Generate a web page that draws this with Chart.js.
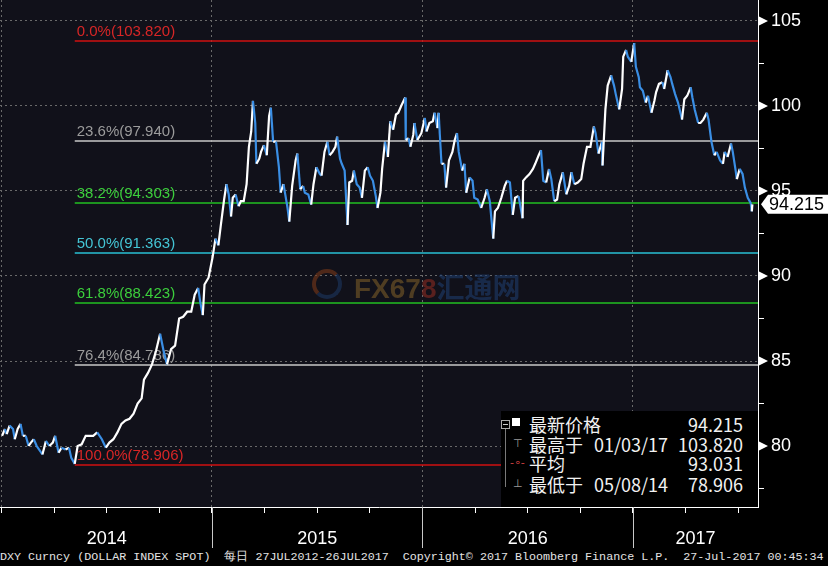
<!DOCTYPE html>
<html lang="zh">
<head>
<meta charset="UTF-8">
<title>DXY Curncy</title>
<script src="https://cdn.jsdelivr.net/npm/chart.js"></script>
<style>
    body { margin: 0; background: #000; width: 828px; height: 566px; overflow: hidden; position: relative; font-family: "Liberation Sans", Arial, sans-serif; }
    #chart { position: absolute; left: 0; top: 0; }
    .footer { position: absolute; left: 0; top: 549px; font-family: "Liberation Mono", "DejaVu Sans Mono", monospace; font-size: 11.7px; color: #e4e4e4; white-space: pre; line-height: 16px; }
    .legend { position: absolute; left: 501px; top: 411px; width: 257px; height: 96px; background: #000; color: #f2f2f2; font-family: "Noto Sans CJK SC", sans-serif; font-size: 18px; }
    .legend .row { position: absolute; left: 0; width: 257px; height: 20px; line-height: 20px; }
    .legend .lbl { position: absolute; left: 28px; }
    .legend .dt { position: absolute; left: 93px; }
    .legend .val { position: absolute; right: 15px; }
    .legend .ico { position: absolute; left: 12px; font-family: "DejaVu Sans", sans-serif; font-size: 11px; color: #9a9a9a; }
    .tree { position: absolute; left: 4px; top: 16px; width: 0; height: 60px; border-left: 1px solid #7a7a7a; }
    .box { position: absolute; left: 0; top: 9px; width: 7px; height: 7px; border: 1px solid #aaa; background: #000; }
    .box:after { content: ""; position: absolute; left: 1px; top: 3px; width: 5px; height: 1px; background: #ccc; }
    .sq { position: absolute; left: 11px; top: 7px; width: 8px; height: 8px; background: #fff; }
    .wm { position: absolute; left: 312px; top: 266px; opacity: 0.6; }
    .wm .ring { position: absolute; left: 0; top: 3px; width: 22px; height: 22px; border-radius: 50%; border: 4px solid; border-color: #7a3a1a #1d3760 #1d3760 #7a3a1a; }
    .wm .txt { position: absolute; left: 42px; top: 0; white-space: nowrap; font: bold 28px "Liberation Sans", sans-serif; color: #7a5c28; }
    .wm .cn { font-family: "Noto Sans CJK SC", sans-serif; color: #1f3d6c; }
</style>
</head>
<body>
<canvas id="chart" width="828" height="548"></canvas>

<div class="wm">
    <div class="ring"></div>
    <div class="txt">FX67<span style="color:#8a2c22">8</span><span class="cn">汇通网</span></div>
</div>

<div class="legend">
    <div class="tree"></div>
    <div class="box"></div>
    <div class="sq"></div>
    <div class="row" style="top:3px"><span class="lbl">最新价格</span><span class="val">94.215</span></div>
    <div class="row" style="top:23px"><span class="ico">⊤</span><span class="lbl">最高于</span><span class="dt">01/03/17</span><span class="val">103.820</span></div>
    <div class="row" style="top:42px"><span class="ico" style="color:#d04040;left:9px">-∘-</span><span class="lbl">平均</span><span class="val">93.031</span></div>
    <div class="row" style="top:63px"><span class="ico">⊥</span><span class="lbl">最低于</span><span class="dt">05/08/14</span><span class="val">78.906</span></div>
</div>

<div class="footer">DXY Curncy (DOLLAR INDEX SPOT)  每日 27JUL2012-26JUL2017  Copyright© 2017 Bloomberg Finance L.P.  27-Jul-2017 00:45:34</div>

<script>
// donnees (cours DXY)
const dates = [
    '2014-01-02','2014-01-07','2014-01-10','2014-01-15','2014-01-21','2014-01-24','2014-01-29','2014-02-03','2014-02-07','2014-02-12',
    '2014-02-17','2014-02-21','2014-02-26','2014-03-03','2014-03-07','2014-03-13','2014-03-19','2014-03-25','2014-03-31','2014-04-04',
    '2014-04-10','2014-04-15','2014-04-22','2014-04-28','2014-05-02','2014-05-08','2014-05-13','2014-05-20','2014-05-27','2014-06-03',
    '2014-06-09','2014-06-16','2014-06-24','2014-07-01','2014-07-07','2014-07-14','2014-07-21','2014-07-28','2014-08-04','2014-08-11',
    '2014-08-18','2014-08-25','2014-09-01','2014-09-05','2014-09-12','2014-09-19','2014-09-26','2014-10-03','2014-10-09','2014-10-15',
    '2014-10-22','2014-10-29','2014-11-05','2014-11-12','2014-11-19','2014-11-26','2014-12-02','2014-12-08','2014-12-12','2014-12-16',
    '2014-12-19','2014-12-26',
    '2015-01-02','2015-01-07','2015-01-12','2015-01-16','2015-01-22','2015-01-26','2015-01-30','2015-02-03','2015-02-06','2015-02-11',
    '2015-02-16','2015-02-20','2015-02-25','2015-03-02','2015-03-06','2015-03-10','2015-03-13','2015-03-17','2015-03-19','2015-03-24',
    '2015-03-27','2015-04-01','2015-04-06','2015-04-10','2015-04-13','2015-04-17','2015-04-22','2015-04-27','2015-04-30','2015-05-05',
    '2015-05-08','2015-05-12','2015-05-15','2015-05-20','2015-05-26','2015-05-29','2015-06-03','2015-06-08','2015-06-11','2015-06-17',
    '2015-06-22','2015-06-26','2015-07-01','2015-07-07','2015-07-10','2015-07-15','2015-07-20','2015-07-24','2015-07-29','2015-08-03',
    '2015-08-06','2015-08-11','2015-08-14','2015-08-19','2015-08-24','2015-08-27','2015-09-01','2015-09-04','2015-09-09','2015-09-14',
    '2015-09-18','2015-09-23','2015-09-28','2015-10-02','2015-10-07','2015-10-12','2015-10-15','2015-10-20','2015-10-23','2015-10-28',
    '2015-11-02','2015-11-06','2015-11-11','2015-11-16','2015-11-20','2015-11-25','2015-12-02','2015-12-03','2015-12-08','2015-12-11',
    '2015-12-16','2015-12-18','2015-12-23','2015-12-30',
    '2016-01-05','2016-01-08','2016-01-13','2016-01-19','2016-01-22','2016-01-27','2016-01-29','2016-02-03','2016-02-08','2016-02-11',
    '2016-02-16','2016-02-22','2016-02-26','2016-03-01','2016-03-04','2016-03-10','2016-03-14','2016-03-17','2016-03-23','2016-03-28',
    '2016-03-31','2016-04-06','2016-04-12','2016-04-18','2016-04-22','2016-04-27','2016-05-03','2016-05-06','2016-05-11','2016-05-17',
    '2016-05-23','2016-05-27','2016-06-01','2016-06-06','2016-06-10','2016-06-16','2016-06-23','2016-06-24','2016-06-29','2016-07-05',
    '2016-07-11','2016-07-15','2016-07-21','2016-07-25','2016-07-29','2016-08-03','2016-08-08','2016-08-12','2016-08-17','2016-08-22',
    '2016-08-26','2016-09-01','2016-09-07','2016-09-12','2016-09-16','2016-09-21','2016-09-27','2016-10-03','2016-10-07','2016-10-13',
    '2016-10-19','2016-10-25','2016-10-28','2016-11-02','2016-11-08','2016-11-09','2016-11-14','2016-11-18','2016-11-24','2016-11-29',
    '2016-12-02','2016-12-08','2016-12-13','2016-12-15','2016-12-20','2016-12-23','2016-12-29',
    '2017-01-03','2017-01-06','2017-01-11','2017-01-13','2017-01-18','2017-01-23','2017-01-27','2017-02-02','2017-02-07','2017-02-10',
    '2017-02-15','2017-02-21','2017-02-24','2017-03-02','2017-03-07','2017-03-10','2017-03-15','2017-03-20','2017-03-27','2017-03-31',
    '2017-04-05','2017-04-11','2017-04-14','2017-04-18','2017-04-24','2017-04-28','2017-05-03','2017-05-09','2017-05-12','2017-05-17',
    '2017-05-22','2017-05-26','2017-06-01','2017-06-06','2017-06-09','2017-06-14','2017-06-20','2017-06-23','2017-06-28','2017-06-30',
    '2017-07-05','2017-07-10','2017-07-14','2017-07-19','2017-07-24','2017-07-26','2017-07-27'
];
const closes = [
    80.6, 81.0, 80.7, 81.2, 81.0, 80.4, 81.0, 81.3, 80.6, 80.6,
    80.0, 80.2, 80.4, 80.0, 79.8, 79.5, 80.3, 80.0, 80.2, 80.6,
    79.6, 79.9, 79.8, 79.9, 79.3, 78.95, 80.0, 80.1, 80.6, 80.6,
    80.6, 80.8, 80.4, 79.9, 80.2, 80.4, 80.8, 81.3, 81.5, 81.6,
    81.9, 82.5, 82.8, 83.9, 84.3, 84.8, 85.6, 86.6, 85.6, 84.8,
    85.7, 85.9, 87.5, 87.6, 87.9, 87.9, 88.9, 89.3, 88.4, 87.7,
    89.5, 89.9,
    91.1, 92.2, 91.8, 92.9, 94.5, 95.4, 94.8, 93.5, 94.6, 94.8,
    94.1, 94.4, 94.4, 95.4, 97.6, 98.5, 100.3, 99.0, 96.6, 96.9,
    97.3, 97.7, 97.1, 99.4, 99.9, 97.9, 97.9, 96.4, 94.9, 95.4,
    94.8, 94.0, 93.2, 95.3, 96.8, 97.2, 95.1, 95.3, 94.9, 94.8,
    94.2, 95.4, 96.4, 96.0, 95.9, 97.3, 97.9, 97.1, 97.3, 97.6,
    98.2, 96.9, 96.6, 96.2, 93.0, 95.5, 95.6, 96.2, 95.4, 95.2,
    94.6, 96.2, 96.4, 95.9, 95.6, 94.7, 94.0, 94.9, 96.3, 97.9,
    97.0, 99.1, 98.6, 99.5, 99.6, 100.0, 100.5, 98.0, 98.1, 97.6,
    98.3, 99.0, 98.0, 98.4,
    99.3, 98.5, 99.0, 99.1, 99.6, 98.7, 99.6, 96.6, 96.6, 95.2,
    96.8, 97.3, 98.0, 98.4, 97.3, 96.2, 96.6, 94.9, 95.8, 95.6,
    94.6, 94.5, 94.0, 94.6, 95.1, 94.4, 92.2, 93.8, 94.0, 94.6,
    95.3, 95.6, 95.5, 93.6, 94.6, 94.7, 93.4, 95.6, 95.8, 96.0,
    96.3, 96.6, 97.1, 97.4, 95.6, 95.5, 96.3, 95.7, 94.4, 94.5,
    95.4, 96.1, 94.8, 95.3, 96.1, 95.4, 95.5, 95.7, 96.6, 97.6,
    97.6, 98.8, 98.4, 97.2, 97.9, 96.5, 99.8, 101.2, 101.8, 101.2,
    100.7, 99.8, 101.0, 102.9, 103.3, 102.9, 102.6,
    103.7, 102.3, 101.7, 101.1, 100.9, 100.2, 100.6, 99.6, 100.3, 100.8,
    101.3, 101.4, 101.0, 102.1, 101.7, 101.3, 100.7, 100.2, 99.2, 100.4,
    100.6, 101.1, 100.5, 99.8, 99.0, 99.0, 99.2, 99.6, 99.2, 97.9,
    97.1, 97.3, 96.8, 96.6, 97.3, 97.0, 97.8, 97.3, 96.2, 95.7,
    96.3, 96.0, 95.2, 94.6, 94.3, 93.8, 94.215
];

// retracements de Fibonacci
const fibLevels = ['0.0%', '23.6%', '38.2%', '50.0%', '61.8%', '76.4%', '100.0%'];
const fibValues = [103.820, 97.940, 94.303, 91.363, 88.423, 84.786, 78.906];
const fibLineColors = ['#d01010', '#c8c8c8', '#22c022', '#28c0d4', '#22c022', '#c8c8c8', '#d01010'];
const fibTextColors = ['#d82626', '#9c9c9c', '#3ccf3c', '#44c5d5', '#3ccf3c', '#9c9c9c', '#d82626'];
const fibStart = '2014-05-08';

const yearLabels = ['2014', '2015', '2016', '2017'];
const yTicks = [77.5, 80, 82.5, 85, 87.5, 90, 92.5, 95, 97.5, 100, 102.5, 105];
const lastPrice = '94.215';

function toYear(s) {
    const d = new Date(s + 'T00:00:00Z');
    const y = d.getUTCFullYear();
    const a = Date.UTC(y, 0, 1), b = Date.UTC(y + 1, 0, 1);
    return y + (d.getTime() - a) / (b - a);
}

const xMin = 2014 - 1.5 / 210.5;
const xMax = 2014 + 756.5 / 210.5;
const yMin = 76.412;
const yMax = 106.235;

const points = dates.map((d, i) => ({ x: toYear(d), y: closes[i] }));

// positions des etiquettes d'annee (milieu de la partie visible)
const labelPos = yearLabels.map(y => {
    const a = Math.max(+y, xMin), b = Math.min(+y + 1, xMax);
    return (a + b) / 2;
});
const xTickValues = [];
for (let q = 2014; q <= 2017.5; q += 0.25) xTickValues.push(q);
labelPos.forEach(p => { if (!xTickValues.some(v => Math.abs(v - p) < 1e-6)) xTickValues.push(p); });
xTickValues.sort((a, b) => a - b);

const isInt = v => Math.abs(v - Math.round(v)) < 1e-6;
const isQuarter = v => Math.abs(v * 4 - Math.round(v * 4)) < 1e-6;

const bgPlugin = {
    id: 'bg',
    beforeDraw(chart) {
        const { ctx, chartArea: a } = chart;
        ctx.save();
        ctx.fillStyle = '#000';
        ctx.fillRect(0, 0, chart.width, chart.height);
        ctx.fillStyle = '#11111a';
        ctx.fillRect(a.left, a.top, a.right - a.left, a.bottom - a.top);
        ctx.restore();
    }
};

const fibPlugin = {
    id: 'fib',
    beforeDatasetsDraw(chart) {
        const { ctx, chartArea: a, scales: { x, y } } = chart;
        const x0 = x.getPixelForValue(toYear(fibStart));
        ctx.save();
        ctx.setLineDash([]);
        ctx.font = '15px "Liberation Sans", Arial, sans-serif';
        ctx.textBaseline = 'bottom';
        fibValues.forEach((v, i) => {
            const py = Math.round(y.getPixelForValue(v));
            ctx.strokeStyle = fibLineColors[i];
            ctx.lineWidth = 1.6;
            ctx.beginPath();
            ctx.moveTo(x0, py);
            ctx.lineTo(a.right, py);
            ctx.stroke();
            ctx.fillStyle = fibTextColors[i];
            ctx.fillText(fibLevels[i] + '(' + v.toFixed(3) + ')', x0 + 2, py - 2);
        });
        ctx.restore();
    },
    afterDraw(chart) {
        const { ctx, chartArea: a, scales: { x, y } } = chart;
        ctx.save();
        // separateurs d'annees sous l'axe
        ctx.strokeStyle = '#c8c8c8';
        ctx.lineWidth = 1;
        [2015, 2016, 2017].forEach(v => {
            const px = Math.round(x.getPixelForValue(v)) + 0.5;
            ctx.beginPath();
            ctx.moveTo(px, a.bottom);
            ctx.lineTo(px, chart.height);
            ctx.stroke();
        });
        // triangles des graduations
        ctx.fillStyle = '#fff';
        yTicks.filter(v => v % 5 === 0).forEach(v => {
            const py = y.getPixelForValue(v);
            ctx.beginPath();
            ctx.moveTo(a.right + 1, py - 4.5);
            ctx.lineTo(a.right + 10, py);
            ctx.lineTo(a.right + 1, py + 4.5);
            ctx.closePath();
            ctx.fill();
        });
        // etiquette du dernier cours
        const py = y.getPixelForValue(+lastPrice);
        const l = a.right + 3;
        ctx.beginPath();
        ctx.moveTo(l, py);
        ctx.lineTo(l + 7, py - 9.5);
        ctx.lineTo(chart.width, py - 9.5);
        ctx.lineTo(chart.width, py + 9.5);
        ctx.lineTo(l + 7, py + 9.5);
        ctx.closePath();
        ctx.fill();
        ctx.fillStyle = '#000';
        ctx.font = '18px "Liberation Sans", Arial, sans-serif';
        ctx.textBaseline = 'middle';
        ctx.textAlign = 'left';
        ctx.fillText(lastPrice, l + 8, py + 1);
        ctx.restore();
    }
};

new Chart(document.getElementById('chart').getContext('2d'), {
    type: 'line',
    data: {
        datasets: [{
            data: points,
            borderColor: '#ffffff',
            borderWidth: 2.2,
            pointRadius: 0,
            tension: 0,
            segment: {
                borderColor: c => c.p1.parsed.y < c.p0.parsed.y ? '#3a8ee4' : '#ffffff'
            }
        }]
    },
    options: {
        responsive: false,
        animation: false,
        layout: { padding: 0 },
        plugins: { legend: { display: false }, tooltip: { enabled: false } },
        scales: {
            x: {
                type: 'linear',
                min: xMin,
                max: xMax,
                afterBuildTicks: s => { s.ticks = xTickValues.map(v => ({ value: v })); },
                afterFit: s => { s.height = 41; s.paddingLeft = 0; s.paddingRight = 0; },
                grid: {
                    color: c => isInt(c.tick.value) ? '#6a6a6a' : 'rgba(0,0,0,0)',
                    tickColor: c => isQuarter(c.tick.value) ? '#ffffff' : 'rgba(0,0,0,0)',
                    tickLength: 6,
                    lineWidth: 1
                },
                border: { color: '#ffffff', width: 1, dash: [2, 3] },
                ticks: {
                    autoSkip: false,
                    maxRotation: 0,
                    padding: 15,
                    color: '#ffffff',
                    font: { size: 18, family: '"Liberation Sans", Arial, sans-serif' },
                    callback: v => {
                        const i = labelPos.findIndex(p => Math.abs(p - v) < 1e-6);
                        return i >= 0 ? yearLabels[i] : '';
                    }
                }
            },
            y: {
                position: 'right',
                min: yMin,
                max: yMax,
                afterBuildTicks: s => { s.ticks = yTicks.map(v => ({ value: v })); },
                afterFit: s => { s.width = 70; s.paddingTop = 0; s.paddingBottom = 0; },
                grid: {
                    color: c => c.tick.value % 5 === 0 ? '#6a6a6a' : 'rgba(0,0,0,0)',
                    tickColor: '#ffffff',
                    tickLength: 6,
                    lineWidth: 1
                },
                border: { color: '#ffffff', width: 1, dash: [2, 3] },
                ticks: {
                    padding: 7,
                    color: '#ffffff',
                    font: { size: 18, family: '"Liberation Sans", Arial, sans-serif' },
                    callback: v => v % 5 === 0 ? String(v) : ''
                }
            }
        }
    },
    plugins: [bgPlugin, fibPlugin]
});
</script>
</body>
</html>
